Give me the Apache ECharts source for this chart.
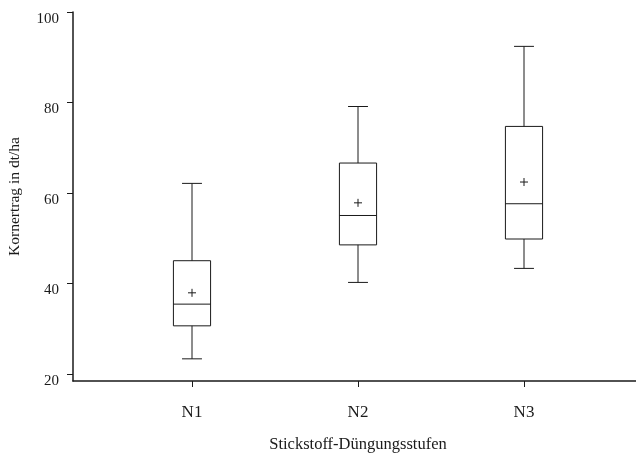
<!DOCTYPE html>
<html>
<head>
<meta charset="utf-8">
<script src="https://cdn.jsdelivr.net/npm/echarts@6/dist/echarts.min.js"></script>
<style>
html, body { margin: 0; background: #fff; }
#chart { width: 636px; height: 454px; }
</style>
</head>
<body>
<div id="chart"></div>
<script>
// Stickstoff-Düngungsstufen vs. Kornertrag
const categories = ['N1', 'N2', 'N3'];
const whiskerLow = [23.3, 40.2, 43.3];
const q1 = [30.6, 48.5, 49.8];
const median = [35.4, 55.0, 57.6];
const q3 = [45.0, 66.6, 74.7];
const whiskerHigh = [62.1, 79.1, 92.4];
const mean = [37.9, 57.8, 62.4];
const yTicks = [20, 40, 60, 80, 100];

const font = 'Liberation Serif';
const ink = '#1a1a1a';
const yMin = 18.4;
const yMax = 100;

const chart = echarts.init(document.getElementById('chart'));

const boxData = categories.map((c, i) => [i, whiskerLow[i], q1[i], median[i], q3[i], whiskerHigh[i], mean[i]]);

/* box + whiskers + mean cross */
function renderBox(params, api) {
  const i = api.value(0);
  const band = api.size([1, 0])[0];
  const half = band * 0.112;
  const cap = band * 0.06;
  const lo = api.coord([i, api.value(1)]);
  const b1 = api.coord([i, api.value(2)]);
  const md = api.coord([i, api.value(3)]);
  const b3 = api.coord([i, api.value(4)]);
  const hi = api.coord([i, api.value(5)]);
  const mn = api.coord([i, api.value(6)]);
  const x = lo[0];
  const style = { stroke: ink, lineWidth: 1, fill: null };
  const line = (x1, y1, x2, y2) => ({ type: 'line', shape: { x1, y1, x2, y2 }, style });
  return {
    type: 'group',
    children: [
      { type: 'rect', shape: { x: x - half, y: b3[1], width: half * 2, height: b1[1] - b3[1] }, style },
      line(x - half, md[1], x + half, md[1]),
      line(x, hi[1], x, b3[1]),
      line(x, b1[1], x, lo[1]),
      line(x - cap, hi[1], x + cap, hi[1]),
      line(x - cap, lo[1], x + cap, lo[1]),
      line(x - 4, mn[1], x + 4, mn[1]),
      line(x, mn[1] - 4, x, mn[1] + 4),
    ],
  };
}

const option = {
  backgroundColor: '#fff',
  animation: false,
  grid: [
    { left: 73, right: 0, top: 12, bottom: 73, outerBoundsMode: 'none' },
    { left: 109, width: 498, top: 12, bottom: 73, outerBoundsMode: 'none' },
  ],
  xAxis: [
    {
      gridIndex: 0,
      type: 'value',
      min: 0,
      max: 1,
      axisLine: { show: true, lineStyle: { color: ink, width: 1.5 } },
      axisTick: { show: false },
      axisLabel: { show: false },
      splitLine: { show: false },
    },
    {
      gridIndex: 1,
      type: 'category',
      data: categories,
      axisLine: { show: false },
      axisTick: { show: true, alignWithLabel: true, length: 6, lineStyle: { color: ink } },
      axisLabel: { margin: 23, fontFamily: font, fontSize: 17, color: ink },
      name: 'Stickstoff-Düngungsstufen',
      nameLocation: 'middle',
      nameGap: 55,
      nameTextStyle: { fontFamily: font, fontSize: 16.5, color: ink },
    },
  ],
  yAxis: [
    {
      gridIndex: 0,
      type: 'value',
      min: yMin,
      max: yMax,
      axisLine: { show: true, lineStyle: { color: ink, width: 1.5 } },
      axisTick: { show: true, customValues: yTicks, length: 6, lineStyle: { color: ink } },
      axisLabel: {
        customValues: yTicks,
        margin: 14,
        fontFamily: font,
        fontSize: 15,
        color: ink,
        verticalAlign: 'top',
        lineHeight: 14,
      },
      splitLine: { show: false },
      name: 'Kornertrag in dt/ha',
      nameLocation: 'middle',
      nameGap: 50,
      nameTextStyle: { fontFamily: font, fontSize: 15.5, color: ink },
    },
    {
      gridIndex: 1,
      type: 'value',
      min: yMin,
      max: yMax,
      show: false,
    },
  ],
  series: [
    {
      type: 'custom',
      xAxisIndex: 1,
      yAxisIndex: 1,
      renderItem: renderBox,
      encode: { x: 0, y: [1, 2, 3, 4, 5, 6] },
      data: boxData,
    },
  ],
};

chart.setOption(option);
</script>
</body>
</html>
